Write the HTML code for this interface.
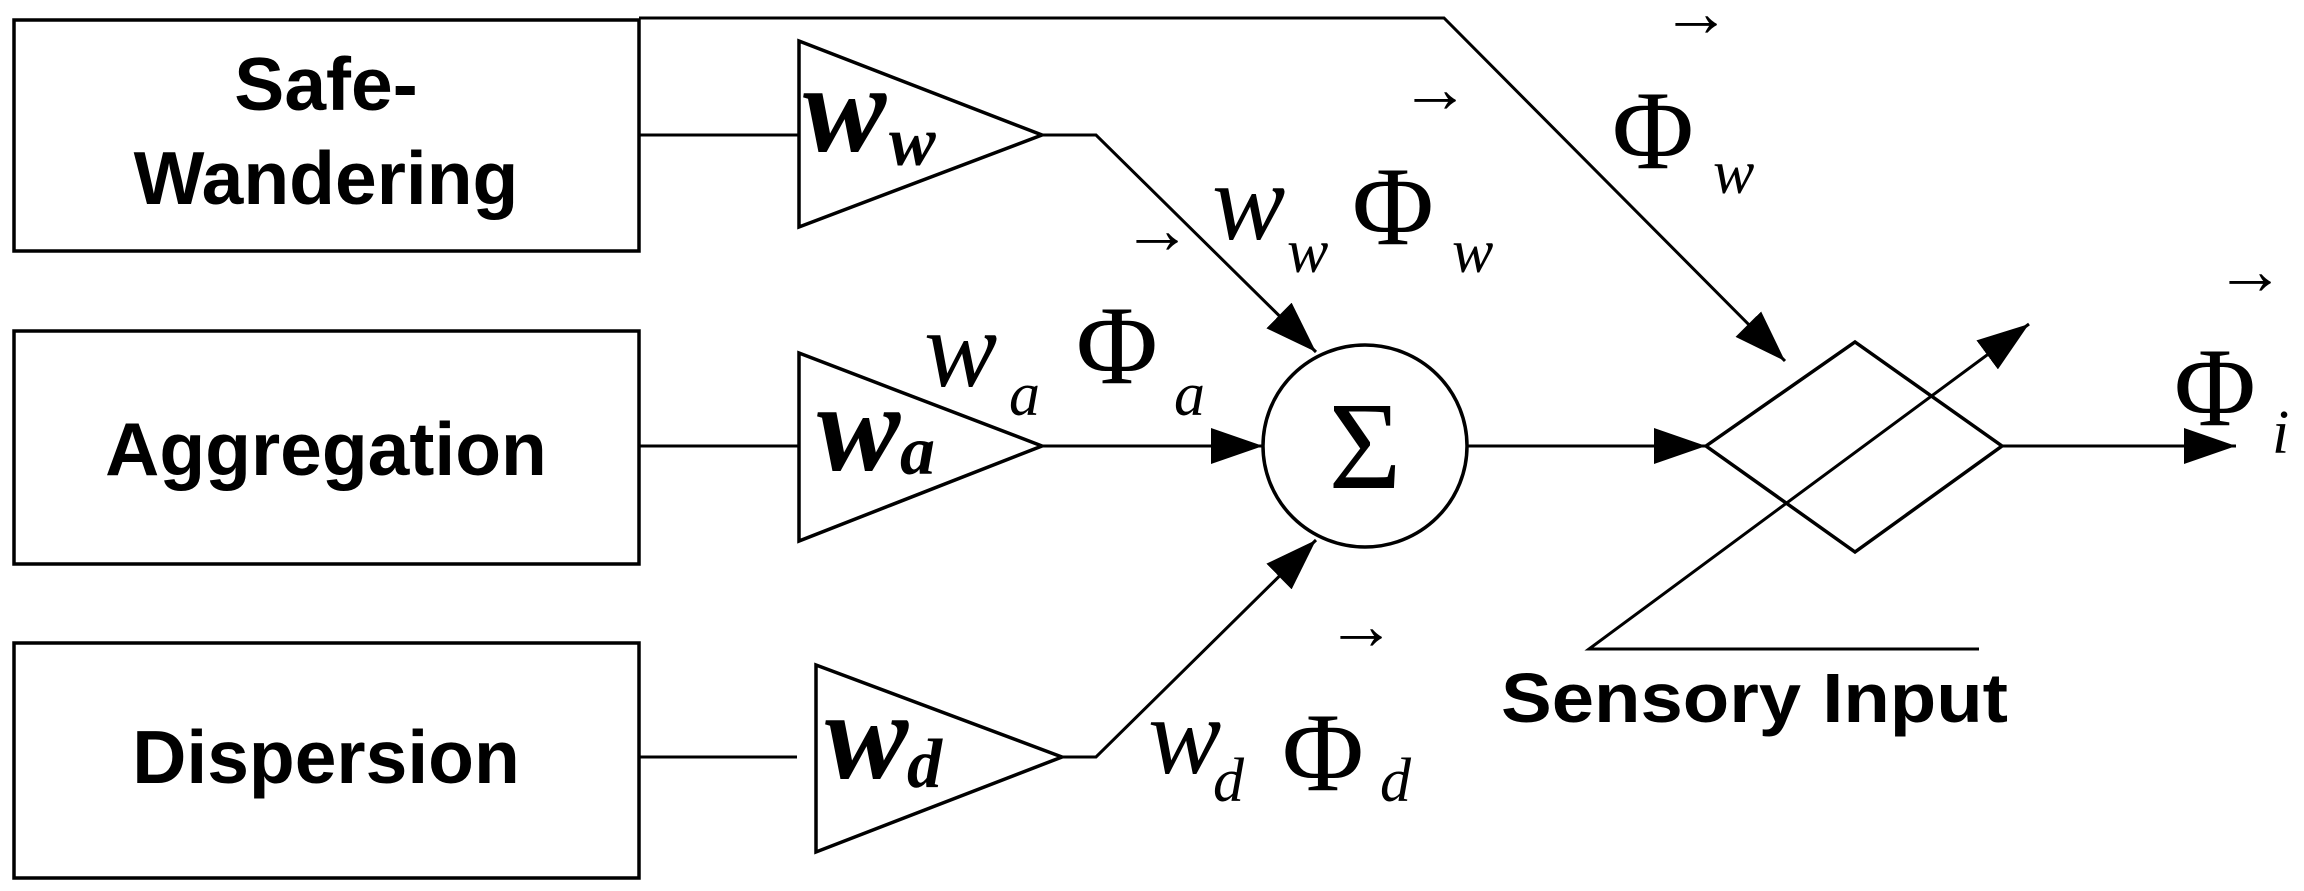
<!DOCTYPE html>
<html><head><meta charset="utf-8"><style>
html,body{margin:0;padding:0;background:#fff;}
svg{display:block;}
.b{font-family:"Liberation Sans",sans-serif;font-weight:bold;font-size:75px;fill:#000;}
.s{font-family:"Liberation Serif",serif;fill:#000;}
</style></head><body>
<svg width="2304" height="891" viewBox="0 0 2304 891" xmlns="http://www.w3.org/2000/svg">
<defs>
<marker id="ah" markerWidth="52" markerHeight="36" refX="52" refY="18" orient="auto" markerUnits="userSpaceOnUse">
<path d="M0,0 L52,18 L0,36 Z" fill="#000"/></marker>
</defs>
<g fill="none" stroke="#000" stroke-width="3.5">
<rect x="14" y="20" width="625" height="231"/>
<rect x="14" y="331" width="625" height="233"/>
<rect x="14" y="643" width="625" height="235"/>
<path d="M799,41 L1042,135 L799,227 Z"/>
<path d="M799,353 L1042,446 L799,541 Z"/>
<path d="M816,665 L1062,757 L816,852 Z"/>
<ellipse cx="1365" cy="446" rx="102" ry="101"/>
<path d="M1706,446 L1855,342 L2002,446 L1855,552 Z"/>
</g>
<g fill="none" stroke="#000" stroke-width="3">
<line x1="639" y1="135" x2="799" y2="135"/>
<line x1="639" y1="446" x2="799" y2="446"/>
<line x1="639" y1="757" x2="797" y2="757"/>
<polyline points="1042,135 1096,135 1316,352" marker-end="url(#ah)"/>
<polyline points="1062,757 1096,757 1316,540" marker-end="url(#ah)"/>
<line x1="1042" y1="446" x2="1263" y2="446" marker-end="url(#ah)"/>
<line x1="1467" y1="446" x2="1706" y2="446" marker-end="url(#ah)"/>
<polyline points="639,18 1444,18 1785,361" marker-end="url(#ah)"/>
<line x1="2002" y1="446" x2="2236" y2="446" marker-end="url(#ah)"/>
<polyline points="1979,649 1589,649 2029,324" marker-end="url(#ah)"/>
</g>
<text class="b" x="326" y="110" text-anchor="middle">Safe-</text>
<text class="b" x="326" y="204" text-anchor="middle">Wandering</text>
<text class="b" x="326" y="475" text-anchor="middle">Aggregation</text>
<text class="b" x="326" y="783" text-anchor="middle">Dispersion</text>
<text class="b" x="1501" y="722" textLength="507" lengthAdjust="spacingAndGlyphs" style="font-size:70px">Sensory Input</text>
<!-- triangle labels -->
<g class="s" font-style="italic" font-weight="bold">
<text x="803" y="151" font-size="125">w</text><text x="889" y="165" font-size="70">w</text>
<text x="817" y="470" font-size="125">w</text><text x="900" y="474" font-size="70">a</text>
<text x="825" y="778" font-size="125">w</text><text x="907" y="787" font-size="70">d</text>
</g>
<!-- connector labels -->
<g class="s">
<text x="1212" y="239" font-size="110" font-style="italic">w</text>
<text x="1287" y="272" font-size="62" font-style="italic">w</text>
<text x="1352" y="244" font-size="112">Φ</text>
<text x="1452" y="272" font-size="62" font-style="italic">w</text>
<text x="1400" y="112" font-size="70">→</text>

<text x="924" y="386" font-size="110" font-style="italic">w</text>
<text x="1009" y="415" font-size="62" font-style="italic">a</text>
<text x="1076" y="383" font-size="112">Φ</text>
<text x="1174" y="415" font-size="62" font-style="italic">a</text>
<text x="1122" y="253" font-size="70">→</text>

<text x="1148" y="773" font-size="110" font-style="italic">w</text>
<text x="1213" y="801" font-size="62" font-style="italic">d</text>
<text x="1282" y="790" font-size="112">Φ</text>
<text x="1380" y="801" font-size="62" font-style="italic">d</text>
<text x="1326" y="649" font-size="70">→</text>

<text x="1612" y="168" font-size="112">Φ</text>
<text x="1713" y="193" font-size="62" font-style="italic">w</text>
<text x="1661" y="36" font-size="70">→</text>

<text x="2174" y="425" font-size="112">Φ</text>
<text x="2272" y="453" font-size="62" font-style="italic">i</text>
<text x="2215" y="294" font-size="70">→</text>

<text x="1365" y="488" font-size="125" text-anchor="middle">Σ</text>
</g>
</svg>
</body></html>
